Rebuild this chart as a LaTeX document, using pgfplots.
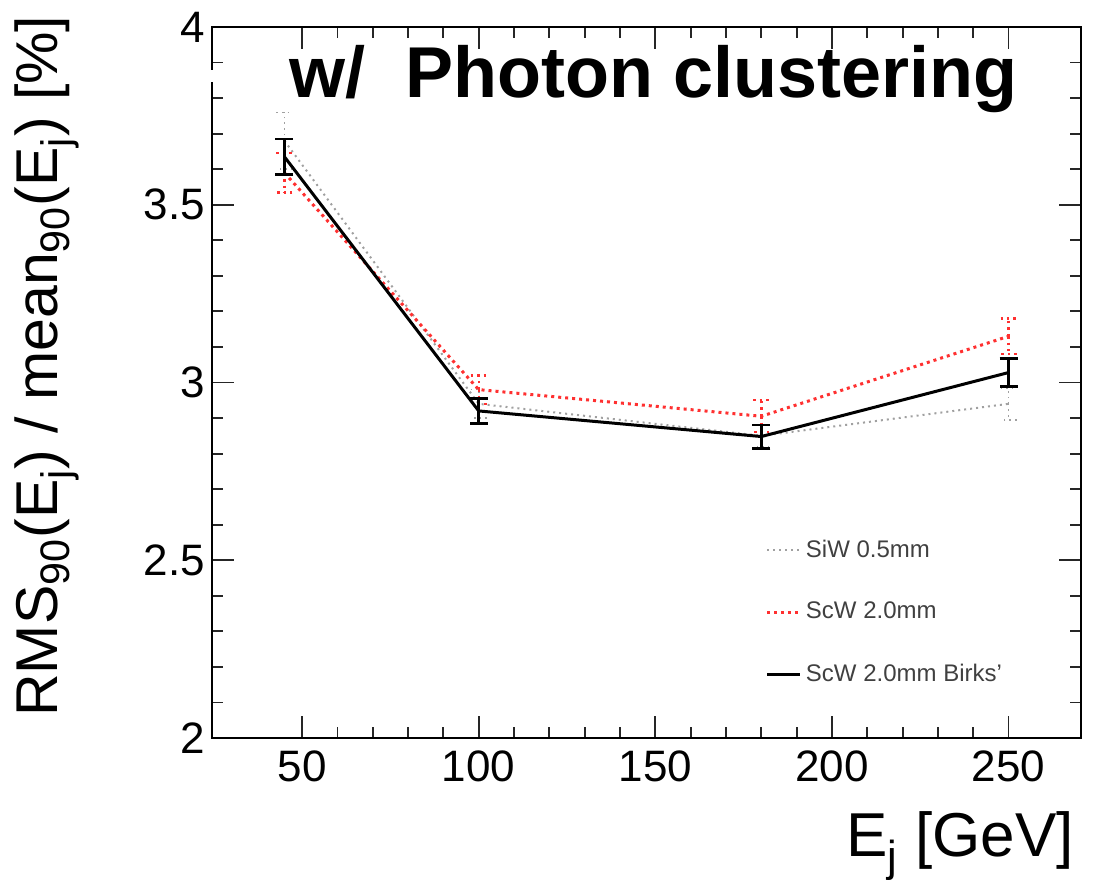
\documentclass[border=0pt]{standalone}
\usepackage{fontspec}
\setmainfont{Liberation Sans}
\usepackage{pgfplots}
\pgfplotsset{compat=1.18}
\definecolor{siwgray}{HTML}{A0A0A0}
\definecolor{scwred}{HTML}{FF3030}
\begin{document}
\begin{tikzpicture}
\path[use as bounding box] (-106pt,-70.5pt) rectangle (443pt,369pt);
\begin{axis}[
  name=ax, at={(0,0)}, anchor=south west,
  scale only axis, width=434.5pt, height=355.5pt,
  xmin=24.5, xmax=270.5, ymin=2, ymax=4,
  xtick={50,100,...,250}, ytick={2,2.5,...,4},
  minor x tick num=4, minor y tick num=4,
  tick align=inside, major tick length=11pt, minor tick length=5.5pt,
  axis line style={line width=1pt}, every tick/.style={line width=0.9pt, black!85},
  /pgf/number format/assume math mode=true,
  ticklabel style={font=\fontsize{22}{22}\selectfont},
  xticklabel style={yshift=-3pt},
  xlabel={E\textsubscript{j} [GeV]},
  ylabel={RMS\textsubscript{90}(E\textsubscript{j}) / mean\textsubscript{90}(E\textsubscript{j}) [\%]},
  label style={font=\fontsize{31}{31}\selectfont},
  xlabel style={at={(axis description cs:1,-0.167)}, anchor=base east},
  ylabel style={at={(axis description cs:-0.19,0.523)}, anchor=center, font=\fontsize{29.5}{29.5}\selectfont},
  legend style={draw=none, fill=none, font=\fontsize{12}{12}\selectfont\color{black!75},
    at={(axis description cs:0.637,0.285)}, anchor=north west, row sep=17pt,
    inner sep=0pt},
  legend cell align=left,
  legend image code/.code={\draw[#1] (0pt,0pt) -- (16.5pt,0pt);},
]
\addplot[siwgray, line width=1pt, dotted, mark=none,
  error bars/.cd, y dir=both, y explicit,
  error bar style={line width=0.8pt, dotted, siwgray},
  error mark options={rotate=90, mark size=4pt, siwgray, line width=0.8pt, dotted}]
  table[x=x, y=y, y error=e] {
x y e
45 3.68 0.08
100 2.94 0.04
180 2.85 0.03
250 2.94 0.045
};
\addlegendentry{SiW 0.5mm}
\addplot[scwred, line width=1.5pt, dotted, mark=none,
  error bars/.cd, y dir=both, y explicit,
  error bar style={line width=1.2pt, dotted, scwred},
  error mark options={rotate=90, mark size=4pt, scwred, line width=1.2pt, dotted}]
  table[x=x, y=y, y error=e] {
x y e
45 3.59 0.055
100 2.98 0.04
180 2.905 0.045
250 3.13 0.05
};
\addlegendentry{ScW 2.0mm}
\addplot[black, line width=1.5pt, solid, mark=none,
  error bars/.cd, y dir=both, y explicit,
  error bar style={line width=1.3pt, black},
  error mark options={rotate=90, mark size=4.5pt, black, line width=1.3pt}]
  table[x=x, y=y, y error=e] {
x y e
45 3.635 0.05
100 2.92 0.035
180 2.848 0.033
250 3.028 0.04
};
\addlegendentry{ScW 2.0mm Birks'}
\node[font=\fontsize{36}{36}\selectfont\bfseries, anchor=base] at (axis description cs:0.508,0.9015) {w/\ \ Photon clustering};
\end{axis}
\fill[white] ([xshift=-4pt,yshift=-21.5pt]ax.north west) rectangle ([xshift=4pt,yshift=-27.5pt]ax.north west);
\end{tikzpicture}
\end{document}
